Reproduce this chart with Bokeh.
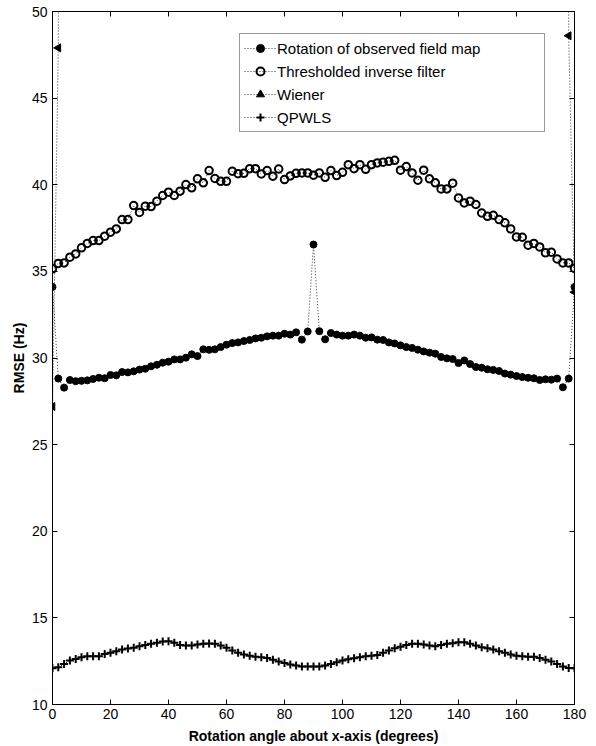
import math
from bokeh.plotting import figure
from bokeh.models import LinearAxis, Legend, LegendItem, FixedTicker, Range1d, CustomJSTickFormatter
from bokeh.embed import file_html
from bokeh.resources import INLINE

angles = list(range(0, 181, 2))

rotation = [34.10, 28.81, 28.29, 28.73, 28.66, 28.68, 28.71, 28.79, 28.86, 28.83,
            29.02, 29.00, 29.19, 29.17, 29.23, 29.33, 29.38, 29.52, 29.61, 29.73,
            29.79, 29.92, 29.92, 30.02, 30.21, 30.11, 30.50, 30.47, 30.50, 30.63,
            30.77, 30.86, 30.90, 30.98, 31.04, 31.13, 31.17, 31.25, 31.29, 31.29,
            31.40, 31.35, 31.48, 31.06, 31.53, 36.55, 31.55, 31.08, 31.44, 31.35,
            31.29, 31.29, 31.35, 31.29, 31.17, 31.19, 31.06, 31.04, 30.90, 30.84,
            30.73, 30.63, 30.58, 30.48, 30.38, 30.31, 30.25, 30.06, 29.98, 29.94,
            29.71, 29.86, 29.65, 29.48, 29.44, 29.35, 29.31, 29.25, 29.10, 29.04,
            28.96, 28.90, 28.86, 28.83, 28.73, 28.77, 28.75, 28.81, 28.31, 28.81,
            34.10]

thresholded = [35.15, 35.46, 35.49, 35.82, 36.01, 36.36, 36.61, 36.78, 36.78, 37.03,
               37.26, 37.45, 37.99, 37.99, 38.80, 38.40, 38.76, 38.74, 39.05, 39.38,
               39.57, 39.38, 39.63, 40.01, 39.82, 40.34, 40.11, 40.82, 40.36, 40.20,
               40.20, 40.78, 40.64, 40.66, 40.93, 40.93, 40.62, 40.82, 40.49, 40.91,
               40.30, 40.51, 40.66, 40.68, 40.68, 40.55, 40.68, 40.43, 40.82, 40.53,
               40.72, 41.16, 40.93, 41.16, 40.89, 41.16, 41.26, 41.30, 41.35, 41.41,
               40.84, 41.05, 40.68, 40.26, 40.84, 40.34, 40.11, 39.76, 39.76, 40.09,
               39.24, 38.95, 39.05, 38.86, 38.37, 38.18, 38.24, 37.99, 37.80, 37.45,
               36.99, 36.97, 36.51, 36.61, 36.41, 36.07, 36.11, 35.72, 35.49, 35.49,
               35.17]

wiener_angles = [0, 2, 4, 176, 178, 180]
wiener = [27.2, 47.9, 150.0, 150.0, 48.6, 33.8]

qpwls = [12.09, 12.15, 12.34, 12.54, 12.63, 12.73, 12.78, 12.78, 12.78, 12.92,
         12.98, 13.07, 13.17, 13.23, 13.27, 13.36, 13.44, 13.50, 13.57, 13.63,
         13.65, 13.56, 13.44, 13.40, 13.40, 13.46, 13.50, 13.52, 13.50, 13.40,
         13.27, 13.11, 12.98, 12.88, 12.82, 12.76, 12.73, 12.69, 12.59, 12.48,
         12.40, 12.31, 12.25, 12.19, 12.19, 12.19, 12.19, 12.25, 12.34, 12.44,
         12.54, 12.61, 12.67, 12.73, 12.78, 12.82, 12.86, 12.98, 13.11, 13.25,
         13.34, 13.44, 13.50, 13.50, 13.46, 13.40, 13.36, 13.44, 13.50, 13.54,
         13.59, 13.59, 13.50, 13.40, 13.30, 13.25, 13.17, 13.07, 12.98, 12.88,
         12.82, 12.78, 12.76, 12.76, 12.69, 12.59, 12.48, 12.34, 12.19, 12.11,
         12.09]

x_ticks = list(range(0, 181, 20))
y_ticks = list(range(10, 51, 5))
labels = ["Rotation of observed field map", "Thresholded inverse filter", "Wiener", "QPWLS"]

FONT = "Liberation Sans"
LINE_COLOR = "#333333"
DASH = "1 2"

p = figure(width=596, height=746, x_range=Range1d(0, 180), y_range=Range1d(10, 50),
           output_backend="svg", toolbar_location=None,
           min_border_left=52, min_border_right=22, min_border_top=11, min_border_bottom=42)
p.background_fill_color = "white"
p.border_fill_color = "white"
p.outline_line_color = "black"
p.outline_line_alpha = 1.0
p.grid.visible = False

for ax, ticks in ((p.xaxis[0], x_ticks), (p.yaxis[0], y_ticks)):
    ax.ticker = FixedTicker(ticks=ticks)
    ax.major_tick_in = 5
    ax.major_tick_out = 0
    ax.minor_tick_line_color = None
    ax.major_label_text_font = FONT
    ax.major_label_text_font_size = "14px"
    ax.major_label_text_color = "black"
    ax.axis_label_text_font = FONT
    ax.axis_label_text_font_size = "14px"
    ax.axis_label_text_font_style = "bold"
    ax.axis_label_text_color = "black"
    ax.axis_line_color = "black"
    ax.major_tick_line_color = "black"

p.xaxis.axis_label = "Rotation angle about x-axis (degrees)"
p.yaxis.axis_label = "RMSE (Hz)"
p.xaxis.major_label_standoff = 4
p.xaxis.axis_label_standoff = 6
p.yaxis.major_label_standoff = 5
p.yaxis.axis_label_standoff = 2

for side, ticks in (("above", x_ticks), ("right", y_ticks)):
    ax = LinearAxis(ticker=FixedTicker(ticks=ticks), major_tick_in=5, major_tick_out=0,
                    minor_tick_line_color=None,
                    formatter=CustomJSTickFormatter(code="return ''"),
                    major_label_standoff=0, axis_line_color="black",
                    major_tick_line_color="black")
    p.add_layout(ax, side)

r1l = p.line(angles, rotation, line_color=LINE_COLOR, line_dash=DASH, line_width=1)
r1m = p.scatter(angles, rotation, marker="circle", size=7, fill_color="black", line_color="black")

r2l = p.line(angles, thresholded, line_color=LINE_COLOR, line_dash=DASH, line_width=1)
r2m = p.scatter(angles, thresholded, marker="circle", size=7.5, fill_color=None,
                line_color="black", line_width=2)

r3l = p.line(wiener_angles, wiener, line_color=LINE_COLOR, line_dash=DASH, line_width=1)
r3m = p.scatter(wiener_angles, wiener, marker="triangle", size=8, angle=math.pi / 2,
                fill_color="black", line_color="black")

r4l = p.line(angles, qpwls, line_color=LINE_COLOR, line_dash=DASH, line_width=1)
r4m = p.scatter(angles, qpwls, marker="cross", size=8, line_color="black", line_width=2)

legend = Legend(items=[
    LegendItem(label=labels[0], renderers=[r1l, r1m]),
    LegendItem(label=labels[1], renderers=[r2l, r2m]),
    LegendItem(label=labels[2], renderers=[r3l, r3m]),
    LegendItem(label=labels[3], renderers=[r4l, r4m]),
], location=(187, 572))
legend.label_text_font = FONT
legend.label_text_font_size = "15px"
legend.label_text_color = "black"
legend.glyph_width = 32
legend.glyph_height = 20
legend.label_height = 20
legend.label_width = 263
legend.label_standoff = 1
legend.spacing = 3
legend.padding = 4
legend.margin = 0
legend.border_line_color = "#333333"
legend.border_line_width = 1
legend.background_fill_color = "white"
legend.background_fill_alpha = 1.0
p.add_layout(legend, "center")

open("out.html", "w").write(file_html(p, INLINE))
